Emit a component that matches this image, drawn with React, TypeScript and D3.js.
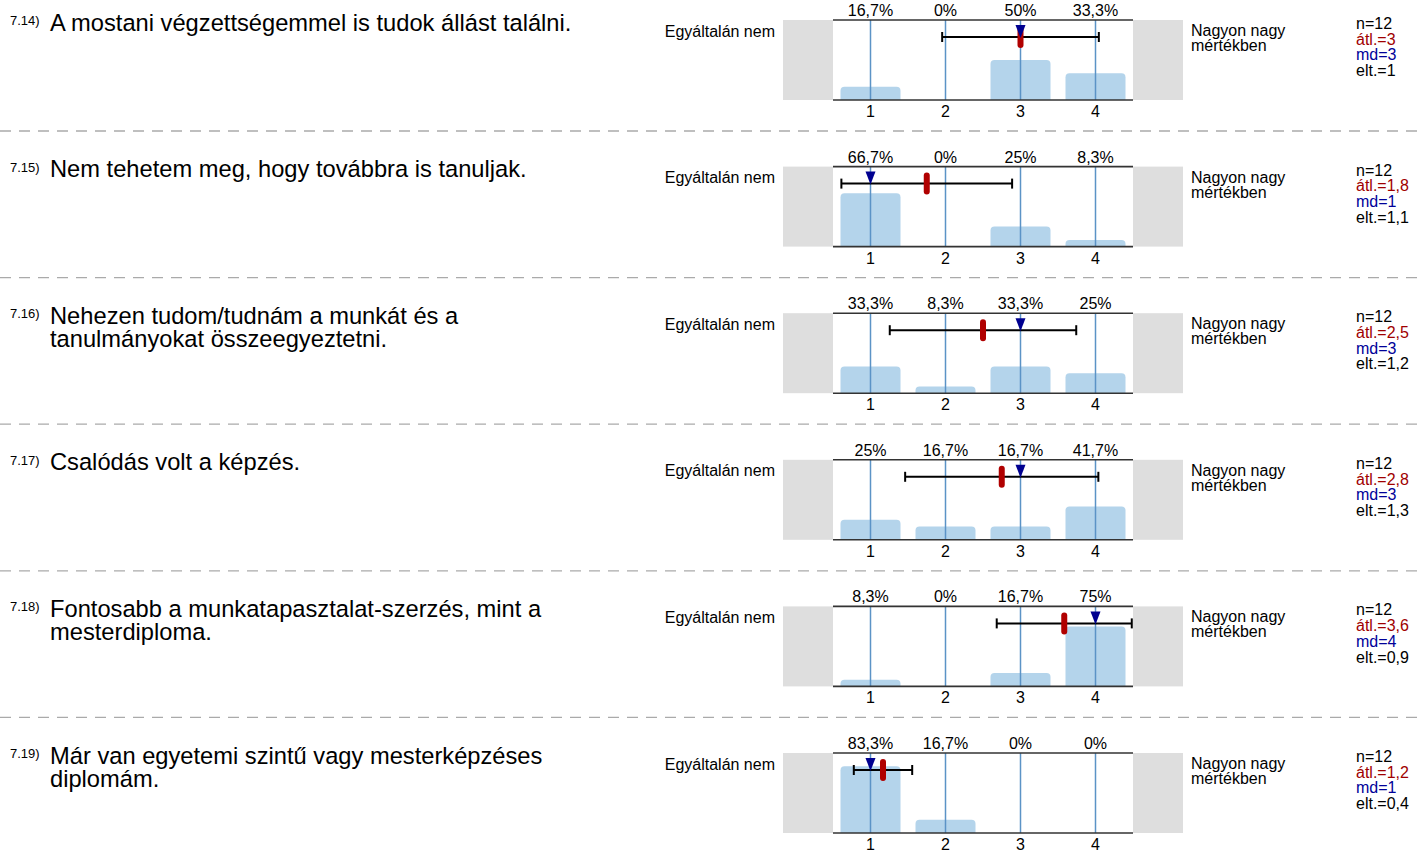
import React from "react";
import * as d3 from "d3";

const itemIds = ["7.14)", "7.15)", "7.16)", "7.17)", "7.18)", "7.19)"];
const itemTitles: string[][] = [
  ["A mostani végzettségemmel is tudok állást találni."],
  ["Nem tehetem meg, hogy továbbra is tanuljak."],
  ["Nehezen tudom/tudnám a munkát és a", "tanulmányokat összeegyeztetni."],
  ["Csalódás volt a képzés."],
  ["Fontosabb a munkatapasztalat-szerzés, mint a", "mesterdiploma."],
  ["Már van egyetemi szintű vagy mesterképzéses", "diplomám."],
];
const scaleValues = [1, 2, 3, 4];
// response counts per scale value (n = 12)
const counts: number[][] = [
  [2, 0, 6, 4],
  [8, 0, 3, 1],
  [4, 1, 4, 3],
  [3, 2, 2, 5],
  [1, 0, 2, 9],
  [10, 2, 0, 0],
];
const leftLabel = "Egyáltalán nem";
const rightLabel = ["Nagyon nagy", "mértékben"];

const W = 1425;
const H = 859;
const FONT = "'Liberation Sans', Arial, Helvetica, sans-serif";
const firstTop = 20;
const rowStep = 146.6;
const plotH = 80;

const x = d3.scaleLinear().domain([0.5, 4.5]).range([833, 1133]);
const hScale = d3.scaleLinear().domain([0, 100]).range([0, plotH]);

const fmt = (v: number) => {
  const r = Math.round(v * 10) / 10;
  return String(r).replace(".", ",");
};

function stats(c: number[]) {
  const vals: number[] = [];
  c.forEach((k, i) => {
    for (let j = 0; j < k; j++) vals.push(scaleValues[i]);
  });
  const n = vals.length;
  const mean = d3.mean(vals) as number;
  const sd = d3.deviation(vals) as number;
  const md = d3.median(vals) as number;
  return { n, mean, sd, md };
}

function Row({ idx }: { idx: number }) {
  const top = firstTop + idx * rowStep;
  const bottom = top + plotH;
  const c = counts[idx];
  const s = stats(c);
  const pcts = c.map((k) => (k / s.n) * 100);
  const errY = top + 17;
  const mx = x(s.mean);
  const mdx = x(s.md);
  const lo = x(s.mean - s.sd);
  const hi = x(s.mean + s.sd);
  return (
    <g>
      {/* title */}
      <text x={10} y={top + 5} fontSize={13} fill="#000">{itemIds[idx]}</text>
      {itemTitles[idx].map((t, i) => (
        <text key={i} x={50} y={top + 10.5 + i * 23.5} fontSize={23.7} fill="#000">{t}</text>
      ))}
      {/* side boxes */}
      <rect x={783} y={top} width={50} height={plotH} fill="#dedede" />
      <rect x={1133} y={top} width={50} height={plotH} fill="#dedede" />
      {/* bars */}
      {pcts.map((p, i) => {
        const h = hScale(p);
        if (h <= 0) return null;
        const cx = x(scaleValues[i]);
        const bw = 60;
        const r = Math.min(4, h);
        const x0 = cx - bw / 2;
        const x1 = cx + bw / 2;
        const y0 = bottom - h;
        const d = `M${x0},${bottom} L${x0},${y0 + r} Q${x0},${y0} ${x0 + r},${y0} L${x1 - r},${y0} Q${x1},${y0} ${x1},${y0 + r} L${x1},${bottom} Z`;
        return <path key={i} d={d} fill="#b4d4eb" />;
      })}
      {/* vertical tick lines */}
      {scaleValues.map((v) => (
        <line key={v} x1={x(v)} x2={x(v)} y1={top} y2={bottom} stroke="#5b93c6" strokeWidth={1.5} />
      ))}
      {/* frame lines */}
      <line x1={833} x2={1133} y1={top} y2={top} stroke="#333" strokeWidth={1.6} />
      <line x1={833} x2={1133} y1={bottom} y2={bottom} stroke="#333" strokeWidth={1.6} />
      {/* percent labels */}
      {pcts.map((p, i) => (
        <text key={i} x={x(scaleValues[i])} y={top - 4} fontSize={16} textAnchor="middle" fill="#000">
          {fmt(p)}%
        </text>
      ))}
      {/* tick labels */}
      {scaleValues.map((v) => (
        <text key={v} x={x(v)} y={top + 97} fontSize={16} textAnchor="middle" fill="#000">{v}</text>
      ))}
      {/* error bar */}
      <line x1={lo} x2={hi} y1={errY} y2={errY} stroke="#000" strokeWidth={2} />
      <line x1={lo} x2={lo} y1={errY - 5} y2={errY + 5} stroke="#000" strokeWidth={2} />
      <line x1={hi} x2={hi} y1={errY - 5} y2={errY + 5} stroke="#000" strokeWidth={2} />
      {/* mean marker */}
      <rect x={mx - 3} y={top + 6} width={6} height={22} rx={3} fill="#b00000" />
      {/* median marker */}
      <path d={`M${mdx - 5},${top + 5} L${mdx + 5},${top + 5} L${mdx},${top + 18} Z`} fill="#000090" />
      {/* side labels */}
      <text x={775} y={top + 16.5} fontSize={16} textAnchor="end" fill="#000">{leftLabel}</text>
      {rightLabel.map((t, i) => (
        <text key={i} x={1191} y={top + 16 + i * 15} fontSize={16} fill="#000">{t}</text>
      ))}
      {/* stats */}
      <text x={1356} y={top + 9} fontSize={16} fill="#000">n={s.n}</text>
      <text x={1356} y={top + 24.7} fontSize={16} fill="#a00000">átl.={fmt(s.mean)}</text>
      <text x={1356} y={top + 40.4} fontSize={16} fill="#000099">md={fmt(s.md)}</text>
      <text x={1356} y={top + 56.1} fontSize={16} fill="#000">elt.={fmt(s.sd)}</text>
      {/* separator */}
      {idx < counts.length - 1 && (
        <line x1={0} x2={W} y1={top + 111} y2={top + 111} stroke="#aaa" strokeWidth={1.3} strokeDasharray="11,8" />
      )}
    </g>
  );
}

export default function App() {
  return (
    <svg width={W} height={H} style={{ position: "absolute", left: 0, top: 0 }} fontFamily={FONT}>
      <rect width={W} height={H} fill="#fff" />
      {counts.map((_, i) => (
        <Row key={i} idx={i} />
      ))}
    </svg>
  );
}
